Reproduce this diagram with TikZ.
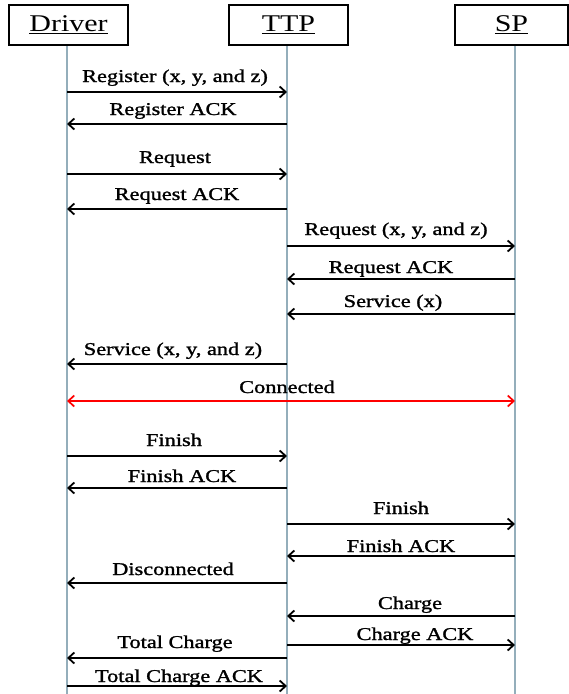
\documentclass[tikz,border=0pt]{standalone}
\usepackage{fontspec}
\setmainfont{Liberation Serif}
\newfontfamily\lblfont[FakeBold=1.2]{Liberation Serif}
\usepackage{graphicx}
\usetikzlibrary{arrows.meta}
\definecolor{lifecol}{HTML}{94AEBB}
\newcommand{\lbltxt}[1]{\scalebox{1.24}[1]{\fontsize{18}{20}\lblfont #1}}
\newcommand{\hdrtxt}[1]{\scalebox{1.25}[1]{\fontsize{24}{28}\selectfont\underline{#1}}}
\newcommand{\msgdraw}[4]{\draw[#4] (#1 |- 0,#3) -- (#2 |- 0,#3);}
\begin{document}
\begin{tikzpicture}[x=1pt,y=-1pt,
  hdrbox/.style={draw=black,line width=2pt,fill=white,minimum height=40pt,inner sep=0pt},
  life/.style={draw=lifecol,line width=1.8pt},
  msg/.style={line width=2.2pt,-{Straight Barb[length=6pt,width=11pt,line width=1.8pt]}},
  conn/.style={red,line width=1.7pt,{Straight Barb[length=6pt,width=11pt]}-{Straight Barb[length=6pt,width=11pt]}},
  lbl/.style={anchor=base,inner sep=0pt}]
\useasboundingbox (0,0) rectangle (569,694);
% lifeline coordinates
\coordinate (Dx) at (67,45);
\coordinate (Tx) at (287,45);
\coordinate (Sx) at (515,45);
\coordinate (Dend) at (67,694);
\coordinate (Tend) at (287,694);
\coordinate (Send) at (515,694);
\draw[life] (Dx) -- (Dend);
\draw[life] (Tx) -- (Tend);
\draw[life] (Sx) -- (Send);
% headers
\node[hdrbox,minimum width=119pt] (Dbox) at (68.5,25) {\hdrtxt{Driver}};
\node[hdrbox,minimum width=119pt] (Tbox) at (288.5,25) {\hdrtxt{TTP}};
\node[hdrbox,minimum width=113pt] (Sbox) at (511.5,25) {\hdrtxt{SP}};
% messages
\msgdraw{Dx}{Tx}{92}{msg}
\node[lbl] (m1) at (175,82) {\lbltxt{Register (x, y, and z)}};
\msgdraw{Tx}{Dx}{124}{msg}
\node[lbl] (m2) at (173,115) {\lbltxt{Register ACK}};
\msgdraw{Dx}{Tx}{174}{msg}
\node[lbl] (m3) at (175,163) {\lbltxt{Request}};
\msgdraw{Tx}{Dx}{209}{msg}
\node[lbl] (m4) at (177,200) {\lbltxt{Request ACK}};
\msgdraw{Tx}{Sx}{246}{msg}
\node[lbl] (m5) at (396,235) {\lbltxt{Request (x, y, and z)}};
\msgdraw{Sx}{Tx}{279}{msg}
\node[lbl] (m6) at (391,273) {\lbltxt{Request ACK}};
\msgdraw{Sx}{Tx}{314}{msg}
\node[lbl] (m7) at (393,307) {\lbltxt{Service (x)}};
\msgdraw{Tx}{Dx}{364}{msg}
\node[lbl] (m8) at (173,355) {\lbltxt{Service (x, y, and z)}};
\msgdraw{Dx}{Sx}{401}{conn}
\node[lbl] (m9) at (287,393) {\lbltxt{Connected}};
\msgdraw{Dx}{Tx}{456}{msg}
\node[lbl] (m10) at (174,446) {\lbltxt{Finish}};
\msgdraw{Tx}{Dx}{488}{msg}
\node[lbl] (m11) at (182,482) {\lbltxt{Finish ACK}};
\msgdraw{Tx}{Sx}{524}{msg}
\node[lbl] (m12) at (401,514) {\lbltxt{Finish}};
\msgdraw{Sx}{Tx}{556}{msg}
\node[lbl] (m13) at (401,552) {\lbltxt{Finish ACK}};
\msgdraw{Tx}{Dx}{583}{msg}
\node[lbl] (m14) at (173,575) {\lbltxt{Disconnected}};
\msgdraw{Sx}{Tx}{616}{msg}
\node[lbl] (m15) at (410,609) {\lbltxt{Charge}};
\msgdraw{Tx}{Sx}{645}{msg}
\node[lbl] (m16) at (415,640) {\lbltxt{Charge ACK}};
\msgdraw{Tx}{Dx}{658}{msg}
\node[lbl] (m17) at (175,648) {\lbltxt{Total Charge}};
\msgdraw{Dx}{Tx}{686}{msg}
\node[lbl] (m18) at (179,682) {\lbltxt{Total Charge ACK}};
\end{tikzpicture}
\end{document}
